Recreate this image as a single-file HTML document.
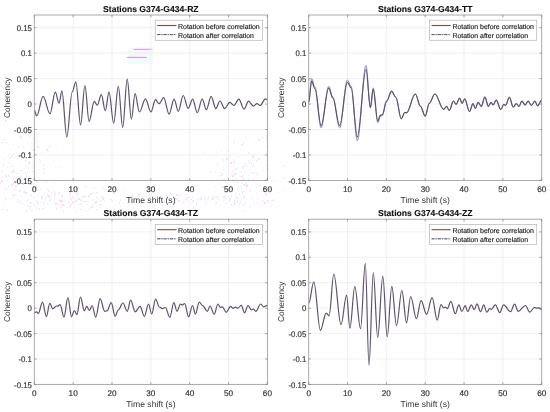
<!DOCTYPE html><html><head><meta charset="utf-8"><style>
html,body{margin:0;padding:0;background:#fff;}
body{width:550px;height:412px;overflow:hidden;}
svg{display:block;}
text{font-family:"Liberation Sans", sans-serif;stroke-linejoin:round;text-rendering:geometricPrecision;}
</style></head><body>
<svg width="550" height="412" viewBox="0 0 550 412" style="will-change:transform">
<rect width="550" height="412" fill="#fff"/>
<g opacity="0.42"><rect x="12" y="183" width="1" height="1" fill="#c4f4f4"/><rect x="13" y="177" width="1" height="1" fill="#f6b4ee"/><rect x="20" y="176" width="2" height="1" fill="#f6b4ee"/><rect x="18" y="202" width="1" height="1" fill="#c4f4f4"/><rect x="19" y="170" width="1" height="1" fill="#c4f4f4"/><rect x="23" y="184" width="1" height="1" fill="#c4f4f4"/><rect x="8" y="155" width="1" height="1" fill="#f6b4ee"/><rect x="20" y="203" width="1" height="1" fill="#f6b4ee"/><rect x="6" y="177" width="1" height="1" fill="#c4f4f4"/><rect x="2" y="159" width="2" height="1" fill="#c4f4f4"/><rect x="21" y="170" width="2" height="1" fill="#f6b4ee"/><rect x="12" y="172" width="2" height="1" fill="#c4f4f4"/><rect x="23" y="158" width="1" height="1" fill="#c4f4f4"/><rect x="28" y="163" width="1" height="2" fill="#c4f4f4"/><rect x="20" y="155" width="1" height="1" fill="#f6b4ee"/><rect x="8" y="175" width="1" height="2" fill="#f6b4ee"/><rect x="22" y="184" width="2" height="1" fill="#f6b4ee"/><rect x="1" y="180" width="2" height="2" fill="#c4f4f4"/><rect x="13" y="194" width="2" height="2" fill="#f6b4ee"/><rect x="20" y="183" width="1" height="1" fill="#f6b4ee"/><rect x="8" y="162" width="1" height="1" fill="#f6b4ee"/><rect x="10" y="147" width="1" height="1" fill="#c4f4f4"/><rect x="32" y="149" width="2" height="1" fill="#c4f4f4"/><rect x="11" y="178" width="1" height="1" fill="#c4f4f4"/><rect x="17" y="184" width="1" height="1" fill="#f6b4ee"/><rect x="19" y="180" width="1" height="2" fill="#f6b4ee"/><rect x="10" y="163" width="1" height="1" fill="#f6b4ee"/><rect x="32" y="201" width="1" height="1" fill="#c4f4f4"/><rect x="20" y="177" width="1" height="2" fill="#f6b4ee"/><rect x="17" y="176" width="1" height="1" fill="#c4f4f4"/><rect x="13" y="170" width="2" height="2" fill="#f6b4ee"/><rect x="12" y="155" width="1" height="2" fill="#f6b4ee"/><rect x="11" y="185" width="2" height="2" fill="#c4f4f4"/><rect x="23" y="133" width="1" height="1" fill="#c4f4f4"/><rect x="14" y="176" width="1" height="1" fill="#f6b4ee"/><rect x="5" y="120" width="2" height="2" fill="#f6b4ee"/><rect x="26" y="166" width="1" height="1" fill="#f6b4ee"/><rect x="20" y="201" width="2" height="1" fill="#c4f4f4"/><rect x="3" y="139" width="1" height="2" fill="#f6b4ee"/><rect x="20" y="136" width="1" height="2" fill="#f6b4ee"/><rect x="5" y="206" width="1" height="1" fill="#c4f4f4"/><rect x="34" y="160" width="1" height="1" fill="#f6b4ee"/><rect x="33" y="149" width="2" height="2" fill="#f6b4ee"/><rect x="9" y="154" width="1" height="1" fill="#f6b4ee"/><rect x="33" y="166" width="2" height="1" fill="#f6b4ee"/><rect x="31" y="142" width="1" height="1" fill="#f6b4ee"/><rect x="16" y="201" width="1" height="1" fill="#f6b4ee"/><rect x="25" y="160" width="1" height="2" fill="#f6b4ee"/><rect x="1" y="171" width="1" height="1" fill="#f6b4ee"/><rect x="16" y="173" width="1" height="1" fill="#c4f4f4"/><rect x="13" y="144" width="1" height="1" fill="#f6b4ee"/><rect x="17" y="161" width="1" height="1" fill="#c4f4f4"/><rect x="17" y="146" width="2" height="2" fill="#c4f4f4"/><rect x="0" y="182" width="1" height="2" fill="#f6b4ee"/><rect x="1" y="180" width="2" height="2" fill="#f6b4ee"/><rect x="36" y="135" width="1" height="2" fill="#f6b4ee"/><rect x="19" y="161" width="1" height="1" fill="#f6b4ee"/><rect x="16" y="180" width="2" height="2" fill="#c4f4f4"/><rect x="26" y="200" width="1" height="2" fill="#c4f4f4"/><rect x="24" y="168" width="1" height="1" fill="#c4f4f4"/><rect x="38" y="169" width="1" height="1" fill="#f6b4ee"/><rect x="11" y="184" width="2" height="1" fill="#f6b4ee"/><rect x="3" y="164" width="1" height="2" fill="#f6b4ee"/><rect x="11" y="171" width="2" height="2" fill="#c4f4f4"/><rect x="23" y="182" width="2" height="1" fill="#f6b4ee"/><rect x="24" y="188" width="2" height="1" fill="#c4f4f4"/><rect x="31" y="211" width="2" height="1" fill="#c4f4f4"/><rect x="33" y="183" width="1" height="2" fill="#f6b4ee"/><rect x="1" y="142" width="2" height="1" fill="#f6b4ee"/><rect x="24" y="153" width="1" height="2" fill="#f6b4ee"/><rect x="15" y="183" width="1" height="1" fill="#f6b4ee"/><rect x="18" y="178" width="1" height="1" fill="#f6b4ee"/><rect x="16" y="153" width="1" height="1" fill="#f6b4ee"/><rect x="25" y="173" width="2" height="1" fill="#f6b4ee"/><rect x="21" y="195" width="1" height="2" fill="#c4f4f4"/><rect x="3" y="182" width="1" height="1" fill="#c4f4f4"/><rect x="3" y="206" width="1" height="1" fill="#c4f4f4"/><rect x="13" y="178" width="1" height="2" fill="#f6b4ee"/><rect x="15" y="185" width="2" height="2" fill="#f6b4ee"/><rect x="11" y="156" width="1" height="1" fill="#f6b4ee"/><rect x="23" y="191" width="2" height="2" fill="#f6b4ee"/><rect x="7" y="167" width="1" height="1" fill="#c4f4f4"/><rect x="27" y="172" width="1" height="1" fill="#f6b4ee"/><rect x="14" y="171" width="1" height="1" fill="#f6b4ee"/><rect x="18" y="173" width="1" height="1" fill="#f6b4ee"/><rect x="5" y="142" width="1" height="1" fill="#c4f4f4"/><rect x="22" y="170" width="1" height="1" fill="#c4f4f4"/><rect x="28" y="132" width="2" height="2" fill="#c4f4f4"/><rect x="25" y="192" width="2" height="2" fill="#f6b4ee"/><rect x="23" y="146" width="1" height="2" fill="#c4f4f4"/><rect x="16" y="177" width="1" height="1" fill="#f6b4ee"/><rect x="23" y="147" width="1" height="2" fill="#c4f4f4"/><rect x="15" y="172" width="2" height="1" fill="#c4f4f4"/><rect x="33" y="186" width="1" height="1" fill="#f6b4ee"/><rect x="14" y="157" width="2" height="1" fill="#c4f4f4"/><rect x="5" y="188" width="2" height="2" fill="#c4f4f4"/><rect x="12" y="165" width="1" height="2" fill="#f6b4ee"/><rect x="10" y="198" width="1" height="1" fill="#f6b4ee"/><rect x="7" y="142" width="1" height="1" fill="#c4f4f4"/><rect x="2" y="177" width="2" height="1" fill="#f6b4ee"/><rect x="43" y="164" width="1" height="2" fill="#f6b4ee"/><rect x="28" y="167" width="1" height="2" fill="#f6b4ee"/><rect x="19" y="200" width="1" height="2" fill="#f6b4ee"/><rect x="30" y="202" width="2" height="2" fill="#f6b4ee"/><rect x="13" y="172" width="1" height="1" fill="#f6b4ee"/><rect x="13" y="183" width="1" height="2" fill="#f6b4ee"/><rect x="36" y="172" width="1" height="2" fill="#c4f4f4"/><rect x="10" y="125" width="1" height="1" fill="#f6b4ee"/><rect x="32" y="171" width="1" height="1" fill="#f6b4ee"/><rect x="21" y="175" width="1" height="2" fill="#c4f4f4"/><rect x="16" y="189" width="1" height="1" fill="#f6b4ee"/><rect x="39" y="159" width="1" height="2" fill="#c4f4f4"/><rect x="30" y="161" width="1" height="2" fill="#c4f4f4"/><rect x="9" y="157" width="2" height="1" fill="#f6b4ee"/><rect x="5" y="175" width="2" height="2" fill="#f6b4ee"/><rect x="14" y="204" width="1" height="1" fill="#f6b4ee"/><rect x="19" y="183" width="2" height="1" fill="#f6b4ee"/><rect x="29" y="171" width="1" height="1" fill="#f6b4ee"/><rect x="13" y="180" width="1" height="1" fill="#f6b4ee"/><rect x="31" y="148" width="1" height="1" fill="#f6b4ee"/><rect x="8" y="185" width="1" height="2" fill="#f6b4ee"/><rect x="25" y="190" width="2" height="1" fill="#c4f4f4"/><rect x="14" y="188" width="1" height="2" fill="#f6b4ee"/><rect x="30" y="135" width="1" height="2" fill="#f6b4ee"/><rect x="26" y="156" width="1" height="1" fill="#c4f4f4"/><rect x="36" y="153" width="2" height="1" fill="#c4f4f4"/><rect x="21" y="180" width="1" height="2" fill="#f6b4ee"/><rect x="12" y="140" width="1" height="1" fill="#c4f4f4"/><rect x="36" y="181" width="2" height="2" fill="#f6b4ee"/><rect x="13" y="182" width="1" height="2" fill="#f6b4ee"/><rect x="19" y="177" width="1" height="1" fill="#f6b4ee"/><rect x="18" y="201" width="1" height="1" fill="#f6b4ee"/><rect x="32" y="163" width="1" height="1" fill="#c4f4f4"/><rect x="13" y="153" width="1" height="2" fill="#f6b4ee"/><rect x="7" y="180" width="2" height="1" fill="#c4f4f4"/><rect x="26" y="176" width="1" height="1" fill="#f6b4ee"/><rect x="21" y="137" width="1" height="2" fill="#f6b4ee"/><rect x="7" y="209" width="1" height="2" fill="#f6b4ee"/><rect x="51" y="198" width="1" height="2" fill="#f6b4ee"/><rect x="84" y="196" width="1" height="2" fill="#f6b4ee"/><rect x="75" y="200" width="1" height="2" fill="#f6b4ee"/><rect x="103" y="189" width="2" height="1" fill="#c4f4f4"/><rect x="69" y="195" width="1" height="1" fill="#c4f4f4"/><rect x="61" y="202" width="1" height="1" fill="#f6b4ee"/><rect x="83" y="196" width="1" height="1" fill="#c4f4f4"/><rect x="92" y="184" width="1" height="1" fill="#f6b4ee"/><rect x="26" y="210" width="1" height="2" fill="#f6b4ee"/><rect x="98" y="199" width="2" height="1" fill="#c4f4f4"/><rect x="79" y="198" width="1" height="2" fill="#c4f4f4"/><rect x="90" y="193" width="2" height="2" fill="#f6b4ee"/><rect x="66" y="210" width="1" height="1" fill="#f6b4ee"/><rect x="72" y="180" width="2" height="1" fill="#c4f4f4"/><rect x="73" y="207" width="2" height="1" fill="#c4f4f4"/><rect x="69" y="206" width="2" height="1" fill="#f6b4ee"/><rect x="84" y="185" width="2" height="2" fill="#c4f4f4"/><rect x="58" y="204" width="2" height="1" fill="#f6b4ee"/><rect x="85" y="210" width="1" height="1" fill="#f6b4ee"/><rect x="46" y="195" width="2" height="2" fill="#c4f4f4"/><rect x="68" y="201" width="1" height="2" fill="#f6b4ee"/><rect x="50" y="199" width="1" height="2" fill="#f6b4ee"/><rect x="69" y="182" width="1" height="2" fill="#c4f4f4"/><rect x="60" y="207" width="2" height="1" fill="#f6b4ee"/><rect x="70" y="204" width="2" height="1" fill="#f6b4ee"/><rect x="57" y="205" width="1" height="1" fill="#c4f4f4"/><rect x="84" y="187" width="1" height="1" fill="#c4f4f4"/><rect x="92" y="184" width="1" height="1" fill="#c4f4f4"/><rect x="83" y="201" width="1" height="2" fill="#c4f4f4"/><rect x="30" y="209" width="1" height="2" fill="#f6b4ee"/><rect x="82" y="196" width="1" height="1" fill="#c4f4f4"/><rect x="59" y="201" width="1" height="1" fill="#f6b4ee"/><rect x="59" y="193" width="1" height="2" fill="#f6b4ee"/><rect x="79" y="204" width="2" height="1" fill="#f6b4ee"/><rect x="81" y="199" width="1" height="2" fill="#f6b4ee"/><rect x="84" y="200" width="1" height="1" fill="#c4f4f4"/><rect x="56" y="207" width="1" height="2" fill="#f6b4ee"/><rect x="96" y="197" width="2" height="1" fill="#f6b4ee"/><rect x="130" y="198" width="2" height="1" fill="#f6b4ee"/><rect x="93" y="192" width="1" height="1" fill="#f6b4ee"/><rect x="31" y="184" width="1" height="1" fill="#f6b4ee"/><rect x="54" y="197" width="1" height="2" fill="#f6b4ee"/><rect x="95" y="203" width="2" height="1" fill="#c4f4f4"/><rect x="116" y="211" width="1" height="1" fill="#c4f4f4"/><rect x="94" y="194" width="1" height="2" fill="#c4f4f4"/><rect x="96" y="209" width="1" height="2" fill="#f6b4ee"/><rect x="78" y="193" width="1" height="1" fill="#f6b4ee"/><rect x="59" y="200" width="2" height="2" fill="#f6b4ee"/><rect x="104" y="200" width="1" height="2" fill="#c4f4f4"/><rect x="97" y="205" width="1" height="1" fill="#c4f4f4"/><rect x="37" y="203" width="1" height="1" fill="#f6b4ee"/><rect x="64" y="198" width="1" height="1" fill="#c4f4f4"/><rect x="74" y="184" width="1" height="1" fill="#f6b4ee"/><rect x="81" y="200" width="1" height="1" fill="#f6b4ee"/><rect x="61" y="197" width="1" height="2" fill="#c4f4f4"/><rect x="75" y="188" width="1" height="1" fill="#f6b4ee"/><rect x="84" y="196" width="2" height="2" fill="#c4f4f4"/><rect x="77" y="193" width="1" height="2" fill="#c4f4f4"/><rect x="84" y="195" width="2" height="1" fill="#c4f4f4"/><rect x="42" y="208" width="2" height="1" fill="#f6b4ee"/><rect x="76" y="193" width="2" height="1" fill="#f6b4ee"/><rect x="67" y="207" width="1" height="1" fill="#f6b4ee"/><rect x="44" y="182" width="2" height="1" fill="#f6b4ee"/><rect x="30" y="195" width="2" height="1" fill="#f6b4ee"/><rect x="19" y="190" width="2" height="2" fill="#f6b4ee"/><rect x="30" y="206" width="2" height="1" fill="#f6b4ee"/><rect x="39" y="208" width="1" height="2" fill="#f6b4ee"/><rect x="119" y="202" width="1" height="2" fill="#f6b4ee"/><rect x="34" y="191" width="1" height="1" fill="#f6b4ee"/><rect x="92" y="206" width="1" height="2" fill="#f6b4ee"/><rect x="83" y="202" width="1" height="1" fill="#c4f4f4"/><rect x="61" y="200" width="1" height="1" fill="#f6b4ee"/><rect x="53" y="195" width="1" height="1" fill="#c4f4f4"/><rect x="89" y="195" width="1" height="2" fill="#f6b4ee"/><rect x="103" y="187" width="1" height="1" fill="#f6b4ee"/><rect x="47" y="189" width="1" height="1" fill="#f6b4ee"/><rect x="112" y="192" width="2" height="1" fill="#f6b4ee"/><rect x="41" y="196" width="1" height="2" fill="#f6b4ee"/><rect x="105" y="198" width="1" height="1" fill="#c4f4f4"/><rect x="44" y="192" width="2" height="1" fill="#c4f4f4"/><rect x="61" y="204" width="2" height="2" fill="#f6b4ee"/><rect x="69" y="197" width="2" height="1" fill="#c4f4f4"/><rect x="68" y="189" width="1" height="1" fill="#f6b4ee"/><rect x="94" y="199" width="1" height="2" fill="#c4f4f4"/><rect x="64" y="191" width="1" height="2" fill="#c4f4f4"/><rect x="48" y="197" width="2" height="1" fill="#c4f4f4"/><rect x="73" y="197" width="1" height="2" fill="#f6b4ee"/><rect x="113" y="193" width="2" height="1" fill="#f6b4ee"/><rect x="40" y="189" width="2" height="1" fill="#c4f4f4"/><rect x="93" y="187" width="1" height="2" fill="#c4f4f4"/><rect x="48" y="195" width="1" height="1" fill="#f6b4ee"/><rect x="83" y="195" width="1" height="2" fill="#f6b4ee"/><rect x="61" y="201" width="1" height="2" fill="#f6b4ee"/><rect x="41" y="188" width="1" height="1" fill="#c4f4f4"/><rect x="36" y="209" width="2" height="1" fill="#c4f4f4"/><rect x="111" y="184" width="1" height="1" fill="#c4f4f4"/><rect x="75" y="199" width="2" height="2" fill="#c4f4f4"/><rect x="87" y="187" width="1" height="1" fill="#f6b4ee"/><rect x="70" y="192" width="1" height="1" fill="#f6b4ee"/><rect x="69" y="204" width="1" height="1" fill="#c4f4f4"/><rect x="102" y="195" width="1" height="1" fill="#c4f4f4"/><rect x="44" y="202" width="1" height="2" fill="#c4f4f4"/><rect x="50" y="196" width="1" height="2" fill="#c4f4f4"/><rect x="70" y="198" width="2" height="2" fill="#f6b4ee"/><rect x="102" y="198" width="2" height="1" fill="#f6b4ee"/><rect x="44" y="198" width="1" height="2" fill="#c4f4f4"/><rect x="65" y="203" width="1" height="1" fill="#c4f4f4"/><rect x="62" y="195" width="1" height="2" fill="#c4f4f4"/><rect x="51" y="192" width="1" height="2" fill="#f6b4ee"/><rect x="120" y="206" width="1" height="1" fill="#f6b4ee"/><rect x="96" y="192" width="2" height="1" fill="#f6b4ee"/><rect x="36" y="200" width="2" height="2" fill="#c4f4f4"/><rect x="55" y="203" width="2" height="2" fill="#f6b4ee"/><rect x="69" y="193" width="2" height="1" fill="#f6b4ee"/><rect x="91" y="204" width="1" height="1" fill="#c4f4f4"/><rect x="56" y="209" width="1" height="1" fill="#c4f4f4"/><rect x="70" y="205" width="1" height="1" fill="#f6b4ee"/><rect x="68" y="194" width="1" height="1" fill="#c4f4f4"/><rect x="119" y="196" width="1" height="1" fill="#c4f4f4"/><rect x="61" y="195" width="1" height="1" fill="#f6b4ee"/><rect x="30" y="206" width="1" height="2" fill="#c4f4f4"/><rect x="54" y="199" width="1" height="2" fill="#c4f4f4"/><rect x="94" y="193" width="2" height="1" fill="#c4f4f4"/><rect x="76" y="210" width="2" height="2" fill="#c4f4f4"/><rect x="95" y="188" width="1" height="1" fill="#c4f4f4"/><rect x="61" y="195" width="2" height="2" fill="#f6b4ee"/><rect x="55" y="193" width="1" height="2" fill="#f6b4ee"/><rect x="34" y="204" width="1" height="2" fill="#c4f4f4"/><rect x="74" y="190" width="2" height="1" fill="#f6b4ee"/><rect x="54" y="196" width="2" height="1" fill="#c4f4f4"/><rect x="99" y="204" width="2" height="1" fill="#f6b4ee"/><rect x="36" y="186" width="1" height="2" fill="#f6b4ee"/><rect x="80" y="209" width="2" height="1" fill="#f6b4ee"/><rect x="96" y="197" width="1" height="1" fill="#f6b4ee"/><rect x="53" y="161" width="1" height="1" fill="#f6b4ee"/><rect x="44" y="168" width="2" height="1" fill="#c4f4f4"/><rect x="47" y="181" width="1" height="1" fill="#f6b4ee"/><rect x="47" y="138" width="1" height="1" fill="#c4f4f4"/><rect x="48" y="190" width="1" height="2" fill="#f6b4ee"/><rect x="48" y="147" width="1" height="1" fill="#f6b4ee"/><rect x="48" y="150" width="1" height="1" fill="#c4f4f4"/><rect x="44" y="172" width="1" height="2" fill="#f6b4ee"/><rect x="43" y="168" width="1" height="1" fill="#f6b4ee"/><rect x="37" y="146" width="2" height="2" fill="#f6b4ee"/><rect x="59" y="167" width="2" height="1" fill="#c4f4f4"/><rect x="50" y="145" width="1" height="2" fill="#f6b4ee"/><rect x="41" y="152" width="1" height="1" fill="#f6b4ee"/><rect x="46" y="149" width="2" height="2" fill="#f6b4ee"/><rect x="53" y="181" width="2" height="2" fill="#c4f4f4"/><rect x="56" y="146" width="1" height="2" fill="#c4f4f4"/><rect x="32" y="156" width="2" height="1" fill="#f6b4ee"/><rect x="44" y="168" width="1" height="1" fill="#f6b4ee"/><rect x="40" y="161" width="1" height="1" fill="#f6b4ee"/><rect x="45" y="158" width="1" height="1" fill="#c4f4f4"/><rect x="37" y="140" width="1" height="2" fill="#f6b4ee"/><rect x="55" y="167" width="1" height="2" fill="#c4f4f4"/><rect x="37" y="134" width="2" height="1" fill="#f6b4ee"/><rect x="28" y="162" width="2" height="2" fill="#f6b4ee"/><rect x="36" y="180" width="1" height="1" fill="#f6b4ee"/><rect x="244" y="164" width="1" height="1" fill="#f6b4ee"/><rect x="249" y="163" width="1" height="1" fill="#c4f4f4"/><rect x="240" y="201" width="1" height="2" fill="#c4f4f4"/><rect x="235" y="193" width="1" height="2" fill="#f6b4ee"/><rect x="244" y="172" width="2" height="1" fill="#c4f4f4"/><rect x="257" y="183" width="1" height="2" fill="#f6b4ee"/><rect x="222" y="159" width="2" height="2" fill="#c4f4f4"/><rect x="224" y="159" width="1" height="2" fill="#c4f4f4"/><rect x="249" y="206" width="2" height="1" fill="#f6b4ee"/><rect x="245" y="182" width="2" height="2" fill="#c4f4f4"/><rect x="220" y="205" width="1" height="1" fill="#c4f4f4"/><rect x="236" y="197" width="1" height="2" fill="#f6b4ee"/><rect x="248" y="175" width="1" height="1" fill="#c4f4f4"/><rect x="251" y="153" width="1" height="1" fill="#c4f4f4"/><rect x="224" y="195" width="2" height="1" fill="#c4f4f4"/><rect x="235" y="182" width="1" height="1" fill="#c4f4f4"/><rect x="244" y="178" width="1" height="2" fill="#c4f4f4"/><rect x="273" y="199" width="1" height="2" fill="#f6b4ee"/><rect x="244" y="210" width="1" height="2" fill="#f6b4ee"/><rect x="234" y="139" width="1" height="2" fill="#c4f4f4"/><rect x="237" y="156" width="1" height="2" fill="#c4f4f4"/><rect x="242" y="175" width="1" height="2" fill="#f6b4ee"/><rect x="256" y="186" width="1" height="2" fill="#c4f4f4"/><rect x="236" y="178" width="1" height="1" fill="#f6b4ee"/><rect x="238" y="167" width="1" height="2" fill="#c4f4f4"/><rect x="230" y="162" width="2" height="2" fill="#f6b4ee"/><rect x="248" y="152" width="1" height="2" fill="#f6b4ee"/><rect x="233" y="142" width="1" height="2" fill="#f6b4ee"/><rect x="254" y="154" width="1" height="2" fill="#f6b4ee"/><rect x="223" y="199" width="2" height="2" fill="#c4f4f4"/><rect x="242" y="179" width="1" height="1" fill="#f6b4ee"/><rect x="258" y="139" width="2" height="2" fill="#f6b4ee"/><rect x="258" y="158" width="2" height="2" fill="#f6b4ee"/><rect x="227" y="137" width="1" height="1" fill="#f6b4ee"/><rect x="246" y="165" width="2" height="1" fill="#c4f4f4"/><rect x="221" y="159" width="1" height="1" fill="#f6b4ee"/><rect x="243" y="142" width="1" height="2" fill="#f6b4ee"/><rect x="244" y="163" width="2" height="2" fill="#c4f4f4"/><rect x="222" y="174" width="1" height="1" fill="#c4f4f4"/><rect x="254" y="206" width="1" height="1" fill="#f6b4ee"/><rect x="232" y="176" width="2" height="1" fill="#f6b4ee"/><rect x="263" y="195" width="1" height="1" fill="#c4f4f4"/><rect x="230" y="198" width="1" height="2" fill="#f6b4ee"/><rect x="256" y="160" width="1" height="2" fill="#c4f4f4"/><rect x="204" y="199" width="2" height="2" fill="#c4f4f4"/><rect x="242" y="183" width="1" height="1" fill="#f6b4ee"/><rect x="264" y="186" width="1" height="2" fill="#c4f4f4"/><rect x="248" y="174" width="1" height="1" fill="#c4f4f4"/><rect x="256" y="174" width="1" height="2" fill="#c4f4f4"/><rect x="234" y="160" width="1" height="2" fill="#f6b4ee"/><rect x="255" y="177" width="1" height="1" fill="#f6b4ee"/><rect x="274" y="153" width="1" height="2" fill="#c4f4f4"/><rect x="236" y="150" width="1" height="1" fill="#c4f4f4"/><rect x="244" y="130" width="1" height="1" fill="#c4f4f4"/><rect x="243" y="168" width="1" height="1" fill="#f6b4ee"/><rect x="232" y="179" width="1" height="2" fill="#f6b4ee"/><rect x="271" y="180" width="1" height="2" fill="#f6b4ee"/><rect x="268" y="146" width="1" height="1" fill="#f6b4ee"/><rect x="274" y="161" width="1" height="1" fill="#c4f4f4"/><rect x="252" y="157" width="1" height="1" fill="#c4f4f4"/><rect x="269" y="189" width="1" height="2" fill="#c4f4f4"/><rect x="241" y="198" width="1" height="2" fill="#f6b4ee"/><rect x="237" y="188" width="1" height="2" fill="#f6b4ee"/><rect x="278" y="192" width="1" height="1" fill="#c4f4f4"/><rect x="239" y="193" width="1" height="2" fill="#f6b4ee"/><rect x="283" y="177" width="1" height="2" fill="#f6b4ee"/><rect x="270" y="189" width="2" height="1" fill="#f6b4ee"/><rect x="248" y="160" width="1" height="2" fill="#f6b4ee"/><rect x="231" y="175" width="2" height="1" fill="#f6b4ee"/><rect x="234" y="173" width="2" height="2" fill="#f6b4ee"/><rect x="245" y="185" width="1" height="1" fill="#f6b4ee"/><rect x="241" y="191" width="2" height="2" fill="#c4f4f4"/><rect x="232" y="171" width="2" height="1" fill="#f6b4ee"/><rect x="241" y="171" width="1" height="2" fill="#c4f4f4"/><rect x="256" y="160" width="2" height="1" fill="#f6b4ee"/><rect x="252" y="166" width="2" height="1" fill="#f6b4ee"/><rect x="251" y="194" width="1" height="1" fill="#c4f4f4"/><rect x="222" y="186" width="2" height="2" fill="#f6b4ee"/><rect x="253" y="164" width="1" height="2" fill="#c4f4f4"/><rect x="276" y="193" width="1" height="1" fill="#c4f4f4"/><rect x="221" y="173" width="2" height="1" fill="#f6b4ee"/><rect x="246" y="186" width="2" height="1" fill="#f6b4ee"/><rect x="265" y="195" width="1" height="1" fill="#f6b4ee"/><rect x="223" y="166" width="1" height="2" fill="#c4f4f4"/><rect x="241" y="172" width="1" height="1" fill="#f6b4ee"/><rect x="241" y="188" width="1" height="1" fill="#f6b4ee"/><rect x="249" y="169" width="2" height="1" fill="#c4f4f4"/><rect x="262" y="136" width="1" height="2" fill="#f6b4ee"/><rect x="225" y="174" width="2" height="1" fill="#c4f4f4"/><rect x="243" y="196" width="2" height="2" fill="#f6b4ee"/><rect x="271" y="158" width="1" height="1" fill="#c4f4f4"/><rect x="283" y="165" width="1" height="2" fill="#f6b4ee"/><rect x="228" y="196" width="1" height="1" fill="#f6b4ee"/><rect x="252" y="179" width="2" height="2" fill="#c4f4f4"/><rect x="221" y="150" width="2" height="1" fill="#c4f4f4"/><rect x="234" y="165" width="1" height="1" fill="#c4f4f4"/><rect x="265" y="165" width="1" height="1" fill="#f6b4ee"/><rect x="257" y="172" width="1" height="1" fill="#f6b4ee"/><rect x="205" y="150" width="1" height="1" fill="#f6b4ee"/><rect x="233" y="175" width="1" height="1" fill="#f6b4ee"/><rect x="230" y="187" width="1" height="1" fill="#f6b4ee"/><rect x="256" y="154" width="1" height="1" fill="#c4f4f4"/><rect x="238" y="156" width="1" height="1" fill="#f6b4ee"/><rect x="238" y="191" width="1" height="1" fill="#f6b4ee"/><rect x="240" y="176" width="2" height="1" fill="#f6b4ee"/><rect x="223" y="169" width="2" height="1" fill="#f6b4ee"/><rect x="244" y="166" width="2" height="1" fill="#f6b4ee"/><rect x="259" y="185" width="2" height="1" fill="#f6b4ee"/><rect x="242" y="166" width="1" height="2" fill="#f6b4ee"/><rect x="216" y="151" width="1" height="2" fill="#c4f4f4"/><rect x="241" y="144" width="2" height="2" fill="#f6b4ee"/><rect x="251" y="172" width="1" height="2" fill="#c4f4f4"/><rect x="224" y="165" width="1" height="1" fill="#c4f4f4"/><rect x="250" y="138" width="1" height="1" fill="#c4f4f4"/><rect x="215" y="186" width="1" height="1" fill="#f6b4ee"/><rect x="231" y="189" width="2" height="1" fill="#c4f4f4"/><rect x="232" y="182" width="1" height="1" fill="#f6b4ee"/><rect x="236" y="173" width="1" height="2" fill="#c4f4f4"/><rect x="266" y="135" width="1" height="2" fill="#f6b4ee"/><rect x="248" y="178" width="1" height="2" fill="#c4f4f4"/><rect x="246" y="153" width="1" height="1" fill="#c4f4f4"/><rect x="235" y="159" width="1" height="1" fill="#f6b4ee"/><rect x="268" y="168" width="1" height="1" fill="#f6b4ee"/><rect x="224" y="192" width="2" height="2" fill="#c4f4f4"/><rect x="223" y="179" width="2" height="1" fill="#c4f4f4"/><rect x="210" y="171" width="1" height="2" fill="#f6b4ee"/><rect x="252" y="156" width="2" height="2" fill="#f6b4ee"/><rect x="266" y="123" width="1" height="1" fill="#c4f4f4"/><rect x="237" y="201" width="1" height="1" fill="#f6b4ee"/><rect x="226" y="158" width="2" height="2" fill="#f6b4ee"/><rect x="260" y="183" width="1" height="2" fill="#c4f4f4"/><rect x="258" y="178" width="1" height="2" fill="#c4f4f4"/><rect x="249" y="200" width="1" height="2" fill="#c4f4f4"/><rect x="182" y="164" width="1" height="1" fill="#c4f4f4"/><rect x="259" y="206" width="1" height="1" fill="#f6b4ee"/><rect x="209" y="172" width="2" height="1" fill="#c4f4f4"/><rect x="273" y="180" width="2" height="1" fill="#f6b4ee"/><rect x="249" y="191" width="2" height="1" fill="#f6b4ee"/><rect x="231" y="195" width="1" height="2" fill="#f6b4ee"/><rect x="203" y="152" width="1" height="1" fill="#f6b4ee"/><rect x="283" y="190" width="1" height="2" fill="#c4f4f4"/><rect x="249" y="162" width="2" height="1" fill="#c4f4f4"/><rect x="255" y="173" width="2" height="1" fill="#f6b4ee"/><rect x="211" y="181" width="1" height="1" fill="#f6b4ee"/><rect x="237" y="202" width="1" height="1" fill="#f6b4ee"/><rect x="237" y="182" width="2" height="1" fill="#f6b4ee"/><rect x="243" y="191" width="1" height="1" fill="#f6b4ee"/><rect x="234" y="162" width="2" height="1" fill="#f6b4ee"/><rect x="256" y="193" width="2" height="1" fill="#c4f4f4"/><rect x="225" y="203" width="2" height="1" fill="#f6b4ee"/><rect x="263" y="170" width="1" height="1" fill="#f6b4ee"/><rect x="239" y="163" width="1" height="1" fill="#c4f4f4"/><rect x="243" y="205" width="2" height="1" fill="#f6b4ee"/><rect x="220" y="175" width="2" height="1" fill="#f6b4ee"/><rect x="230" y="156" width="1" height="1" fill="#f6b4ee"/><rect x="231" y="204" width="1" height="1" fill="#f6b4ee"/><rect x="227" y="177" width="1" height="1" fill="#f6b4ee"/><rect x="263" y="200" width="1" height="2" fill="#f6b4ee"/><rect x="248" y="137" width="1" height="1" fill="#c4f4f4"/><rect x="269" y="183" width="1" height="1" fill="#c4f4f4"/><rect x="227" y="151" width="2" height="1" fill="#f6b4ee"/><rect x="235" y="168" width="2" height="2" fill="#f6b4ee"/><rect x="241" y="172" width="1" height="1" fill="#f6b4ee"/><rect x="237" y="196" width="1" height="2" fill="#f6b4ee"/><rect x="217" y="164" width="1" height="2" fill="#f6b4ee"/><rect x="242" y="178" width="2" height="1" fill="#c4f4f4"/><rect x="277" y="188" width="1" height="1" fill="#c4f4f4"/><rect x="267" y="200" width="2" height="2" fill="#f6b4ee"/><rect x="266" y="193" width="2" height="2" fill="#f6b4ee"/><rect x="241" y="186" width="1" height="2" fill="#c4f4f4"/><rect x="232" y="147" width="1" height="1" fill="#c4f4f4"/><rect x="269" y="188" width="1" height="2" fill="#f6b4ee"/><rect x="264" y="202" width="2" height="2" fill="#f6b4ee"/><rect x="241" y="203" width="1" height="1" fill="#c4f4f4"/><rect x="243" y="184" width="1" height="1" fill="#f6b4ee"/><rect x="239" y="188" width="1" height="1" fill="#c4f4f4"/><rect x="244" y="202" width="2" height="1" fill="#f6b4ee"/><rect x="257" y="198" width="2" height="1" fill="#f6b4ee"/><rect x="243" y="165" width="1" height="1" fill="#c4f4f4"/><rect x="246" y="140" width="1" height="1" fill="#f6b4ee"/><rect x="244" y="184" width="1" height="2" fill="#f6b4ee"/><rect x="234" y="181" width="1" height="1" fill="#f6b4ee"/><rect x="246" y="184" width="2" height="2" fill="#f6b4ee"/><rect x="267" y="194" width="1" height="1" fill="#c4f4f4"/><rect x="223" y="179" width="1" height="1" fill="#f6b4ee"/><rect x="265" y="164" width="2" height="2" fill="#c4f4f4"/><rect x="242" y="193" width="1" height="2" fill="#f6b4ee"/><rect x="251" y="163" width="1" height="2" fill="#f6b4ee"/><rect x="252" y="172" width="2" height="2" fill="#c4f4f4"/><rect x="237" y="189" width="1" height="1" fill="#c4f4f4"/><rect x="226" y="171" width="1" height="1" fill="#c4f4f4"/><rect x="111" y="200" width="2" height="2" fill="#c4f4f4"/><rect x="182" y="201" width="1" height="1" fill="#f6b4ee"/><rect x="139" y="202" width="1" height="1" fill="#c4f4f4"/><rect x="162" y="202" width="1" height="1" fill="#f6b4ee"/><rect x="149" y="202" width="2" height="2" fill="#c4f4f4"/><rect x="128" y="204" width="1" height="1" fill="#c4f4f4"/><rect x="132" y="207" width="2" height="2" fill="#c4f4f4"/><rect x="162" y="206" width="1" height="1" fill="#f6b4ee"/><rect x="154" y="204" width="1" height="2" fill="#f6b4ee"/><rect x="200" y="197" width="2" height="2" fill="#c4f4f4"/><rect x="153" y="201" width="1" height="1" fill="#c4f4f4"/><rect x="83" y="197" width="1" height="1" fill="#f6b4ee"/><rect x="115" y="211" width="1" height="2" fill="#f6b4ee"/><rect x="138" y="203" width="1" height="1" fill="#c4f4f4"/><rect x="118" y="206" width="1" height="1" fill="#c4f4f4"/><rect x="136" y="202" width="1" height="1" fill="#c4f4f4"/><rect x="127" y="202" width="1" height="1" fill="#f6b4ee"/><rect x="136" y="201" width="1" height="1" fill="#f6b4ee"/><rect x="140" y="204" width="2" height="1" fill="#f6b4ee"/><rect x="138" y="194" width="2" height="2" fill="#f6b4ee"/><rect x="195" y="208" width="1" height="2" fill="#f6b4ee"/><rect x="102" y="199" width="2" height="1" fill="#f6b4ee"/><rect x="152" y="207" width="1" height="1" fill="#f6b4ee"/><rect x="135" y="210" width="2" height="2" fill="#f6b4ee"/><rect x="176" y="198" width="2" height="1" fill="#c4f4f4"/><rect x="149" y="198" width="1" height="2" fill="#c4f4f4"/><rect x="170" y="206" width="2" height="2" fill="#c4f4f4"/><rect x="189" y="204" width="1" height="2" fill="#f6b4ee"/><rect x="201" y="210" width="1" height="1" fill="#c4f4f4"/><rect x="5" y="202" width="1" height="1" fill="#c4f4f4"/><rect x="101" y="204" width="1" height="1" fill="#f6b4ee"/><rect x="48" y="196" width="2" height="1" fill="#f6b4ee"/><rect x="39" y="193" width="1" height="1" fill="#c4f4f4"/><rect x="80" y="203" width="2" height="1" fill="#c4f4f4"/><rect x="82" y="206" width="1" height="1" fill="#c4f4f4"/><rect x="91" y="206" width="2" height="2" fill="#f6b4ee"/><rect x="83" y="201" width="2" height="1" fill="#f6b4ee"/><rect x="77" y="200" width="1" height="1" fill="#f6b4ee"/><rect x="38" y="202" width="1" height="1" fill="#f6b4ee"/><rect x="92" y="200" width="1" height="1" fill="#c4f4f4"/><rect x="48" y="197" width="1" height="1" fill="#f6b4ee"/><rect x="26" y="197" width="2" height="1" fill="#c4f4f4"/><rect x="12" y="197" width="2" height="2" fill="#c4f4f4"/><rect x="41" y="197" width="2" height="2" fill="#f6b4ee"/><rect x="102" y="197" width="2" height="2" fill="#f6b4ee"/><rect x="17" y="199" width="1" height="1" fill="#f6b4ee"/><rect x="85" y="201" width="2" height="1" fill="#f6b4ee"/><rect x="44" y="202" width="1" height="1" fill="#f6b4ee"/><rect x="120" y="200" width="1" height="1" fill="#f6b4ee"/><rect x="54" y="202" width="1" height="1" fill="#f6b4ee"/><rect x="54" y="194" width="1" height="2" fill="#c4f4f4"/><rect x="49" y="199" width="1" height="2" fill="#f6b4ee"/><rect x="27" y="205" width="2" height="1" fill="#f6b4ee"/><rect x="56" y="203" width="1" height="1" fill="#f6b4ee"/><rect x="54" y="197" width="1" height="2" fill="#f6b4ee"/><rect x="88" y="195" width="2" height="2" fill="#f6b4ee"/><rect x="50" y="199" width="2" height="1" fill="#c4f4f4"/><rect x="72" y="201" width="2" height="2" fill="#f6b4ee"/><rect x="78" y="198" width="2" height="2" fill="#f6b4ee"/><rect x="22" y="203" width="1" height="1" fill="#f6b4ee"/><rect x="100" y="201" width="1" height="1" fill="#f6b4ee"/><rect x="58" y="204" width="2" height="1" fill="#f6b4ee"/><rect x="70" y="199" width="2" height="1" fill="#c4f4f4"/><rect x="74" y="201" width="2" height="1" fill="#f6b4ee"/><rect x="72" y="196" width="1" height="1" fill="#f6b4ee"/><rect x="37" y="195" width="2" height="1" fill="#f6b4ee"/><rect x="47" y="193" width="1" height="2" fill="#c4f4f4"/><rect x="92" y="199" width="1" height="2" fill="#f6b4ee"/><rect x="62" y="200" width="1" height="2" fill="#f6b4ee"/><rect x="1" y="209" width="2" height="1" fill="#f6b4ee"/><rect x="75" y="200" width="1" height="1" fill="#f6b4ee"/><rect x="89" y="208" width="1" height="1" fill="#f6b4ee"/><rect x="54" y="191" width="1" height="2" fill="#f6b4ee"/><rect x="63" y="211" width="1" height="1" fill="#f6b4ee"/><rect x="70" y="195" width="2" height="1" fill="#f6b4ee"/><rect x="58" y="198" width="1" height="2" fill="#c4f4f4"/><rect x="95" y="201" width="2" height="2" fill="#f6b4ee"/><rect x="45" y="197" width="1" height="1" fill="#f6b4ee"/><rect x="62" y="202" width="1" height="1" fill="#c4f4f4"/><rect x="80" y="199" width="1" height="2" fill="#c4f4f4"/><rect x="76" y="197" width="2" height="1" fill="#c4f4f4"/><rect x="43" y="204" width="1" height="2" fill="#c4f4f4"/><rect x="33" y="197" width="2" height="1" fill="#c4f4f4"/><rect x="81" y="197" width="2" height="1" fill="#c4f4f4"/><rect x="123" y="190" width="1" height="1" fill="#f6b4ee"/><rect x="64" y="199" width="1" height="2" fill="#c4f4f4"/><rect x="74" y="201" width="1" height="1" fill="#c4f4f4"/><rect x="101" y="196" width="2" height="1" fill="#c4f4f4"/><rect x="65" y="207" width="1" height="1" fill="#c4f4f4"/><rect x="63" y="204" width="1" height="2" fill="#f6b4ee"/><rect x="35" y="207" width="1" height="1" fill="#f6b4ee"/><rect x="43" y="201" width="1" height="2" fill="#c4f4f4"/><rect x="45" y="199" width="1" height="2" fill="#f6b4ee"/><rect x="47" y="202" width="2" height="2" fill="#c4f4f4"/><rect x="57" y="202" width="1" height="1" fill="#f6b4ee"/><rect x="29" y="199" width="1" height="1" fill="#c4f4f4"/><rect x="43" y="194" width="1" height="2" fill="#f6b4ee"/><rect x="120" y="199" width="1" height="1" fill="#c4f4f4"/><rect x="37" y="202" width="1" height="2" fill="#f6b4ee"/><rect x="101" y="200" width="1" height="2" fill="#c4f4f4"/><rect x="44" y="202" width="1" height="2" fill="#f6b4ee"/><rect x="73" y="191" width="1" height="1" fill="#f6b4ee"/><rect x="37" y="195" width="2" height="1" fill="#f6b4ee"/><rect x="58" y="192" width="1" height="2" fill="#f6b4ee"/><rect x="64" y="205" width="1" height="2" fill="#c4f4f4"/><rect x="31" y="203" width="1" height="1" fill="#c4f4f4"/><rect x="34" y="196" width="1" height="1" fill="#f6b4ee"/><rect x="88" y="197" width="1" height="1" fill="#c4f4f4"/><rect x="62" y="202" width="1" height="1" fill="#c4f4f4"/><rect x="5" y="198" width="1" height="2" fill="#f6b4ee"/><rect x="18" y="201" width="2" height="2" fill="#c4f4f4"/><rect x="88" y="201" width="2" height="1" fill="#c4f4f4"/><rect x="72" y="202" width="1" height="2" fill="#f6b4ee"/><rect x="27" y="199" width="1" height="2" fill="#f6b4ee"/><rect x="48" y="195" width="2" height="2" fill="#f6b4ee"/><rect x="86" y="204" width="1" height="1" fill="#f6b4ee"/><rect x="41" y="202" width="1" height="1" fill="#f6b4ee"/><rect x="190" y="199" width="2" height="1" fill="#f6b4ee"/><rect x="189" y="202" width="1" height="2" fill="#c4f4f4"/><rect x="212" y="197" width="2" height="2" fill="#f6b4ee"/><rect x="193" y="200" width="1" height="2" fill="#f6b4ee"/><rect x="191" y="203" width="2" height="1" fill="#c4f4f4"/><rect x="170" y="203" width="1" height="2" fill="#c4f4f4"/><rect x="193" y="196" width="1" height="1" fill="#c4f4f4"/><rect x="201" y="196" width="1" height="2" fill="#f6b4ee"/><rect x="200" y="199" width="1" height="1" fill="#c4f4f4"/><rect x="216" y="196" width="2" height="1" fill="#f6b4ee"/><rect x="164" y="200" width="1" height="2" fill="#c4f4f4"/><rect x="192" y="200" width="1" height="2" fill="#c4f4f4"/><rect x="201" y="198" width="1" height="2" fill="#f6b4ee"/><rect x="210" y="201" width="1" height="1" fill="#c4f4f4"/><rect x="180" y="194" width="1" height="2" fill="#f6b4ee"/><rect x="165" y="202" width="2" height="2" fill="#c4f4f4"/><rect x="216" y="202" width="1" height="2" fill="#f6b4ee"/><rect x="196" y="203" width="1" height="2" fill="#f6b4ee"/><rect x="166" y="198" width="1" height="1" fill="#f6b4ee"/><rect x="236" y="194" width="1" height="1" fill="#c4f4f4"/><rect x="235" y="201" width="1" height="1" fill="#f6b4ee"/><rect x="175" y="198" width="1" height="2" fill="#c4f4f4"/><rect x="190" y="199" width="1" height="1" fill="#f6b4ee"/><rect x="175" y="198" width="2" height="1" fill="#f6b4ee"/><rect x="186" y="193" width="1" height="2" fill="#c4f4f4"/><rect x="142" y="202" width="1" height="2" fill="#f6b4ee"/><rect x="256" y="202" width="1" height="1" fill="#f6b4ee"/><rect x="234" y="197" width="1" height="2" fill="#c4f4f4"/><rect x="188" y="197" width="2" height="1" fill="#f6b4ee"/><rect x="217" y="198" width="1" height="2" fill="#f6b4ee"/><rect x="229" y="198" width="1" height="2" fill="#c4f4f4"/><rect x="193" y="197" width="1" height="1" fill="#f6b4ee"/><rect x="212" y="197" width="1" height="1" fill="#f6b4ee"/><rect x="183" y="199" width="1" height="2" fill="#c4f4f4"/><rect x="231" y="205" width="1" height="1" fill="#c4f4f4"/><rect x="168" y="203" width="1" height="1" fill="#f6b4ee"/><rect x="152" y="201" width="1" height="1" fill="#f6b4ee"/><rect x="207" y="198" width="2" height="2" fill="#c4f4f4"/><rect x="175" y="199" width="2" height="1" fill="#f6b4ee"/><rect x="211" y="199" width="2" height="1" fill="#f6b4ee"/><rect x="187" y="199" width="1" height="2" fill="#f6b4ee"/><rect x="212" y="197" width="1" height="1" fill="#c4f4f4"/><rect x="226" y="199" width="1" height="1" fill="#c4f4f4"/><rect x="183" y="203" width="2" height="1" fill="#f6b4ee"/><rect x="205" y="196" width="1" height="1" fill="#f6b4ee"/><rect x="149" y="197" width="1" height="1" fill="#c4f4f4"/><rect x="186" y="199" width="1" height="1" fill="#c4f4f4"/><rect x="182" y="203" width="1" height="1" fill="#c4f4f4"/><rect x="225" y="198" width="2" height="1" fill="#c4f4f4"/><rect x="207" y="201" width="1" height="1" fill="#c4f4f4"/><rect x="185" y="199" width="1" height="1" fill="#f6b4ee"/><rect x="171" y="199" width="1" height="1" fill="#f6b4ee"/><rect x="215" y="202" width="1" height="2" fill="#c4f4f4"/><rect x="271" y="200" width="2" height="1" fill="#f6b4ee"/><rect x="191" y="197" width="1" height="1" fill="#c4f4f4"/><rect x="229" y="200" width="1" height="2" fill="#f6b4ee"/><rect x="234" y="202" width="1" height="2" fill="#f6b4ee"/><rect x="197" y="198" width="1" height="2" fill="#f6b4ee"/><rect x="240" y="201" width="2" height="1" fill="#c4f4f4"/><rect x="212" y="195" width="1" height="2" fill="#c4f4f4"/><rect x="173" y="202" width="1" height="2" fill="#f6b4ee"/><rect x="192" y="197" width="1" height="1" fill="#f6b4ee"/><rect x="205" y="203" width="2" height="2" fill="#c4f4f4"/><rect x="165" y="200" width="2" height="2" fill="#c4f4f4"/><rect x="186" y="197" width="2" height="2" fill="#c4f4f4"/><rect x="239" y="203" width="1" height="2" fill="#f6b4ee"/><rect x="176" y="194" width="2" height="2" fill="#f6b4ee"/><rect x="240" y="196" width="2" height="1" fill="#c4f4f4"/><rect x="148" y="202" width="2" height="1" fill="#c4f4f4"/><rect x="235" y="198" width="1" height="2" fill="#c4f4f4"/><rect x="205" y="197" width="1" height="1" fill="#c4f4f4"/><rect x="178" y="200" width="2" height="2" fill="#f6b4ee"/><rect x="192" y="196" width="2" height="2" fill="#c4f4f4"/><rect x="252" y="197" width="1" height="2" fill="#f6b4ee"/><rect x="214" y="196" width="2" height="2" fill="#c4f4f4"/><rect x="234" y="200" width="1" height="2" fill="#f6b4ee"/><rect x="164" y="202" width="1" height="1" fill="#f6b4ee"/><rect x="164" y="206" width="1" height="1" fill="#c4f4f4"/><rect x="193" y="206" width="1" height="2" fill="#f6b4ee"/><rect x="233" y="204" width="2" height="1" fill="#f6b4ee"/><rect x="189" y="209" width="1" height="2" fill="#f6b4ee"/><rect x="151" y="194" width="1" height="2" fill="#f6b4ee"/><rect x="110" y="199" width="2" height="1" fill="#f6b4ee"/><rect x="199" y="199" width="2" height="1" fill="#f6b4ee"/><rect x="208" y="197" width="1" height="1" fill="#f6b4ee"/><rect x="223" y="196" width="2" height="2" fill="#f6b4ee"/><rect x="194" y="198" width="1" height="2" fill="#c4f4f4"/><rect x="171" y="204" width="1" height="1" fill="#c4f4f4"/><rect x="170" y="192" width="1" height="2" fill="#f6b4ee"/><rect x="253" y="202" width="1" height="1" fill="#c4f4f4"/></g>
<rect x="128" y="50" width="25" height="14" fill="#effcfc"/>
<path d="M133.3 49.3H152.4M126.9 57.4H146.9" stroke="#f27ef0" stroke-width="1.0"/>
<path d="M73.15 15.00V180.40 M112.00 15.00V180.40 M150.85 15.00V180.40 M189.70 15.00V180.40 M228.55 15.00V180.40 M34.30 27.72H267.40 M34.30 53.17H267.40 M34.30 78.62H267.40 M34.30 104.06H267.40 M34.30 129.51H267.40 M34.30 154.95H267.40" stroke="#ececec" stroke-width="0.8" fill="none"/>
<path d="M34.30 110.10 C35.16 110.10 35.84 115.90 36.70 115.90 C39.00 115.90 40.80 96.40 43.10 96.40 C45.58 96.40 47.52 113.70 50.00 113.70 C51.91 113.70 53.39 92.20 55.30 92.20 C56.63 92.20 57.67 103.20 59.00 103.20 C60.04 103.20 60.86 90.90 61.90 90.90 C63.66 90.90 65.04 137.00 66.80 137.00 C68.74 137.00 70.26 92.00 72.20 92.00 C73.50 92.00 74.50 81.80 75.80 81.80 C77.53 81.80 78.87 125.00 80.60 125.00 C82.15 125.00 83.35 85.50 84.90 85.50 C86.41 85.50 87.59 121.40 89.10 121.40 C90.94 121.40 92.36 101.30 94.20 101.30 C95.32 101.30 96.18 105.20 97.30 105.20 C98.74 105.20 99.86 94.60 101.30 94.60 C102.74 94.60 103.86 110.80 105.30 110.80 C106.63 110.80 107.67 92.20 109.00 92.20 C110.69 92.20 112.01 123.20 113.70 123.20 C115.36 123.20 116.64 86.40 118.30 86.40 C119.88 86.40 121.12 127.40 122.70 127.40 C124.32 127.40 125.58 79.10 127.20 79.10 C128.71 79.10 129.89 119.20 131.40 119.20 C132.73 119.20 133.77 93.70 135.10 93.70 C136.65 93.70 137.85 112.00 139.40 112.00 C141.60 112.00 143.30 98.80 145.50 98.80 C147.44 98.80 148.96 111.90 150.90 111.90 C152.56 111.90 153.84 99.70 155.50 99.70 C156.80 99.70 157.80 103.70 159.10 103.70 C160.76 103.70 162.04 97.70 163.70 97.70 C165.64 97.70 167.16 114.10 169.10 114.10 C170.90 114.10 172.30 99.10 174.10 99.10 C175.61 99.10 176.79 111.30 178.30 111.30 C180.06 111.30 181.44 95.50 183.20 95.50 C184.96 95.50 186.34 108.30 188.10 108.30 C189.76 108.30 191.04 99.10 192.70 99.10 C194.32 99.10 195.58 112.80 197.20 112.80 C199.04 112.80 200.46 99.10 202.30 99.10 C203.74 99.10 204.86 109.70 206.30 109.70 C208.06 109.70 209.44 96.40 211.20 96.40 C212.86 96.40 214.14 108.60 215.80 108.60 C217.31 108.60 218.49 101.00 220.00 101.00 C221.66 101.00 222.94 108.60 224.60 108.60 C226.47 108.60 227.93 102.40 229.80 102.40 C231.28 102.40 232.42 105.50 233.90 105.50 C235.66 105.50 237.04 99.10 238.80 99.10 C240.67 99.10 242.13 109.20 244.00 109.20 C245.66 109.20 246.94 101.20 248.60 101.20 C250.29 101.20 251.61 106.10 253.30 106.10 C254.63 106.10 255.67 103.70 257.00 103.70 C258.12 103.70 258.98 105.50 260.10 105.50 C262.04 105.50 263.56 98.80 265.50 98.80 C266.18 98.80 266.72 100.00 267.40 100.00" stroke="#5e5074" stroke-width="1.20" fill="none" stroke-linejoin="round"/>
<rect x="34.30" y="15.00" width="233.10" height="165.40" fill="none" stroke="#a0a0a0" stroke-width="0.90"/>
<path d="M34.30 180.40v-2.2M34.30 15.00v2.2 M73.15 180.40v-2.2M73.15 15.00v2.2 M112.00 180.40v-2.2M112.00 15.00v2.2 M150.85 180.40v-2.2M150.85 15.00v2.2 M189.70 180.40v-2.2M189.70 15.00v2.2 M228.55 180.40v-2.2M228.55 15.00v2.2 M267.40 180.40v-2.2M267.40 15.00v2.2 M34.30 27.72h2.2M267.40 27.72h-2.2 M34.30 53.17h2.2M267.40 53.17h-2.2 M34.30 78.62h2.2M267.40 78.62h-2.2 M34.30 104.06h2.2M267.40 104.06h-2.2 M34.30 129.51h2.2M267.40 129.51h-2.2 M34.30 154.95h2.2M267.40 154.95h-2.2 M34.30 180.40h2.2M267.40 180.40h-2.2" stroke="#808080" stroke-width="0.7" fill="none"/>
<text x="34.30" y="192.00" font-size="8.20" fill="#353535" stroke="#353535" stroke-width="0.18" text-anchor="middle">0</text>
<text x="73.15" y="192.00" font-size="8.20" fill="#353535" stroke="#353535" stroke-width="0.18" text-anchor="middle">10</text>
<text x="112.00" y="192.00" font-size="8.20" fill="#353535" stroke="#353535" stroke-width="0.18" text-anchor="middle">20</text>
<text x="150.85" y="192.00" font-size="8.20" fill="#353535" stroke="#353535" stroke-width="0.18" text-anchor="middle">30</text>
<text x="189.70" y="192.00" font-size="8.20" fill="#353535" stroke="#353535" stroke-width="0.18" text-anchor="middle">40</text>
<text x="228.55" y="192.00" font-size="8.20" fill="#353535" stroke="#353535" stroke-width="0.18" text-anchor="middle">50</text>
<text x="267.40" y="192.00" font-size="8.20" fill="#353535" stroke="#353535" stroke-width="0.18" text-anchor="middle">60</text>
<text x="0" y="0" transform="translate(31.85 30.82) scale(0.95 1)" font-size="8.20" fill="#353535" stroke="#353535" stroke-width="0.18" text-anchor="end">0.15</text>
<text x="0" y="0" transform="translate(31.85 56.27) scale(0.95 1)" font-size="8.20" fill="#353535" stroke="#353535" stroke-width="0.18" text-anchor="end">0.1</text>
<text x="0" y="0" transform="translate(31.85 81.72) scale(0.95 1)" font-size="8.20" fill="#353535" stroke="#353535" stroke-width="0.18" text-anchor="end">0.05</text>
<text x="0" y="0" transform="translate(31.85 107.16) scale(0.95 1)" font-size="8.20" fill="#353535" stroke="#353535" stroke-width="0.18" text-anchor="end">0</text>
<text x="0" y="0" transform="translate(31.85 132.61) scale(0.95 1)" font-size="8.20" fill="#353535" stroke="#353535" stroke-width="0.18" text-anchor="end">-0.05</text>
<text x="0" y="0" transform="translate(31.85 158.05) scale(0.95 1)" font-size="8.20" fill="#353535" stroke="#353535" stroke-width="0.18" text-anchor="end">-0.1</text>
<text x="0" y="0" transform="translate(31.85 183.50) scale(0.95 1)" font-size="8.20" fill="#353535" stroke="#353535" stroke-width="0.18" text-anchor="end">-0.15</text>
<text x="150.85" y="202.60" font-size="8.60" fill="#353535" text-anchor="middle">Time shift (s)</text>
<text x="0" y="0" font-size="8.40" fill="#353535" text-anchor="middle" transform="translate(10.00 97.70) rotate(-90)">Coherency</text>
<text x="150.85" y="12.40" font-size="8.60" font-weight="bold" fill="#111" stroke="#111" stroke-width="0.12" text-anchor="middle">Stations G374-G434-RZ</text>
<rect x="155.20" y="20.20" width="107.20" height="20.10" fill="#fff" stroke="#b4b4b4" stroke-width="0.7"/>
<path d="M157.20 25.50H176.40" stroke="#7e4a40" stroke-width="1.1"/>
<path d="M157.20 34.60H176.40" stroke="#c4c4e4" stroke-width="1.0"/>
<path d="M157.20 34.60H176.40" stroke="#52527e" stroke-width="1.0" stroke-dasharray="3 1.2 1 1.2"/>
<text x="178.10" y="28.60" font-size="6.93" fill="#222" stroke="#222" stroke-width="0.15">Rotation before correlation</text>
<text x="178.10" y="37.70" font-size="6.93" fill="#222" stroke="#222" stroke-width="0.15">Rotation after correlation</text>
<path d="M347.53 15.00V180.40 M386.37 15.00V180.40 M425.20 15.00V180.40 M464.03 15.00V180.40 M502.87 15.00V180.40 M308.70 27.72H541.70 M308.70 53.17H541.70 M308.70 78.62H541.70 M308.70 104.06H541.70 M308.70 129.51H541.70 M308.70 154.95H541.70" stroke="#ececec" stroke-width="0.8" fill="none"/>
<path d="M308.70 102.30 C309.74 102.30 310.56 78.60 311.60 78.60 C312.79 78.60 313.71 86.80 314.90 86.80 C317.13 86.80 318.87 128.00 321.10 128.00 C323.84 128.00 325.96 86.40 328.70 86.40 C330.18 86.40 331.32 97.10 332.80 97.10 C335.25 97.10 337.15 128.00 339.60 128.00 C342.41 128.00 344.59 79.90 347.40 79.90 C348.73 79.90 349.77 86.10 351.10 86.10 C353.33 86.10 355.07 140.70 357.30 140.70 C360.43 140.70 362.87 65.40 366.00 65.40 C367.58 65.40 368.82 107.80 370.40 107.80 C371.41 107.80 372.19 87.80 373.20 87.80 C374.86 87.80 376.14 122.90 377.80 122.90 C378.70 122.90 379.40 116.70 380.30 116.70 C381.06 116.70 381.64 115.60 382.40 115.60 C383.88 115.60 385.02 101.20 386.50 101.20 C388.34 101.20 389.76 90.90 391.60 90.90 C393.11 90.90 394.29 97.10 395.80 97.10 C397.78 97.10 399.32 118.80 401.30 118.80 C402.56 118.80 403.54 112.40 404.80 112.40 C405.41 112.40 405.89 112.80 406.50 112.80 C409.67 112.80 412.13 94.00 415.30 94.00 C417.17 94.00 418.63 106.40 420.50 106.40 C422.19 106.40 423.51 116.10 425.20 116.10 C426.68 116.10 427.82 103.30 429.30 103.30 C431.32 103.30 432.88 94.00 434.90 94.00 C438.03 94.00 440.47 109.30 443.60 109.30 C444.68 109.30 445.52 106.40 446.60 106.40 C447.57 106.40 448.33 110.50 449.30 110.50 C450.78 110.50 451.92 101.20 453.40 101.20 C454.37 101.20 455.13 104.30 456.10 104.30 C457.36 104.30 458.34 98.10 459.60 98.10 C460.50 98.10 461.20 103.30 462.10 103.30 C463.04 103.30 463.76 98.80 464.70 98.80 C466.43 98.80 467.77 111.50 469.50 111.50 C470.76 111.50 471.74 103.70 473.00 103.70 C473.83 103.70 474.47 108.50 475.30 108.50 C476.31 108.50 477.09 102.30 478.10 102.30 C479.22 102.30 480.08 106.40 481.20 106.40 C482.53 106.40 483.57 97.10 484.90 97.10 C486.16 97.10 487.14 106.40 488.40 106.40 C489.37 106.40 490.13 102.30 491.10 102.30 C491.82 102.30 492.38 105.00 493.10 105.00 C494.22 105.00 495.08 100.20 496.20 100.20 C497.86 100.20 499.14 109.50 500.80 109.50 C501.92 109.50 502.78 104.30 503.90 104.30 C504.48 104.30 504.92 105.40 505.50 105.40 C506.90 105.40 508.00 97.30 509.40 97.30 C510.77 97.30 511.83 107.00 513.20 107.00 C514.32 107.00 515.18 103.70 516.30 103.70 C517.27 103.70 518.03 106.40 519.00 106.40 C520.04 106.40 520.86 101.20 521.90 101.20 C523.09 101.20 524.01 105.00 525.20 105.00 C526.24 105.00 527.06 101.20 528.10 101.20 C529.29 101.20 530.21 105.40 531.40 105.40 C532.66 105.40 533.64 101.20 534.90 101.20 C535.87 101.20 536.63 105.80 537.60 105.80 C539.08 105.80 540.22 100.20 541.70 100.20" stroke="#8a82c0" stroke-width="0.9" fill="none" stroke-linejoin="round"/>
<path d="M308.70 102.48 C309.74 102.48 310.56 81.15 311.60 81.15 C312.79 81.15 313.71 88.53 314.90 88.53 C317.13 88.53 318.87 125.61 321.10 125.61 C323.84 125.61 325.96 88.17 328.70 88.17 C330.18 88.17 331.32 97.80 332.80 97.80 C335.25 97.80 337.15 125.61 339.60 125.61 C342.41 125.61 344.59 82.32 347.40 82.32 C348.73 82.32 349.77 87.90 351.10 87.90 C353.33 87.90 355.07 137.04 357.30 137.04 C360.43 137.04 362.87 69.27 366.00 69.27 C367.58 69.27 368.82 107.43 370.40 107.43 C371.41 107.43 372.19 89.43 373.20 89.43 C374.86 89.43 376.14 121.02 377.80 121.02 C378.70 121.02 379.40 115.46 380.30 115.46 C381.06 115.46 381.64 114.58 382.40 114.58 C383.88 114.58 385.02 101.39 386.50 101.39 C388.34 101.39 389.76 91.45 391.60 91.45 C393.11 91.45 394.29 97.25 395.80 97.25 C397.78 97.25 399.32 118.80 401.30 118.80 C402.56 118.80 403.54 112.40 404.80 112.40 C405.41 112.40 405.89 112.80 406.50 112.80 C409.67 112.80 412.13 94.00 415.30 94.00 C417.17 94.00 418.63 106.40 420.50 106.40 C422.19 106.40 423.51 116.10 425.20 116.10 C426.68 116.10 427.82 103.30 429.30 103.30 C431.32 103.30 432.88 94.00 434.90 94.00 C438.03 94.00 440.47 109.30 443.60 109.30 C444.68 109.30 445.52 106.40 446.60 106.40 C447.57 106.40 448.33 110.50 449.30 110.50 C450.78 110.50 451.92 101.20 453.40 101.20 C454.37 101.20 455.13 104.30 456.10 104.30 C457.36 104.30 458.34 98.10 459.60 98.10 C460.50 98.10 461.20 103.30 462.10 103.30 C463.04 103.30 463.76 98.80 464.70 98.80 C466.43 98.80 467.77 111.50 469.50 111.50 C470.76 111.50 471.74 103.70 473.00 103.70 C473.83 103.70 474.47 108.50 475.30 108.50 C476.31 108.50 477.09 102.30 478.10 102.30 C479.22 102.30 480.08 106.40 481.20 106.40 C482.53 106.40 483.57 97.10 484.90 97.10 C486.16 97.10 487.14 106.40 488.40 106.40 C489.37 106.40 490.13 102.30 491.10 102.30 C491.82 102.30 492.38 105.00 493.10 105.00 C494.22 105.00 495.08 100.20 496.20 100.20 C497.86 100.20 499.14 109.50 500.80 109.50 C501.92 109.50 502.78 104.30 503.90 104.30 C504.48 104.30 504.92 105.40 505.50 105.40 C506.90 105.40 508.00 97.30 509.40 97.30 C510.77 97.30 511.83 107.00 513.20 107.00 C514.32 107.00 515.18 103.70 516.30 103.70 C517.27 103.70 518.03 106.40 519.00 106.40 C520.04 106.40 520.86 101.20 521.90 101.20 C523.09 101.20 524.01 105.00 525.20 105.00 C526.24 105.00 527.06 101.20 528.10 101.20 C529.29 101.20 530.21 105.40 531.40 105.40 C532.66 105.40 533.64 101.20 534.90 101.20 C535.87 101.20 536.63 105.80 537.60 105.80 C539.08 105.80 540.22 100.20 541.70 100.20" stroke="#5e5074" stroke-width="1.20" fill="none" stroke-linejoin="round"/>
<rect x="308.70" y="15.00" width="233.00" height="165.40" fill="none" stroke="#a0a0a0" stroke-width="0.90"/>
<path d="M308.70 180.40v-2.2M308.70 15.00v2.2 M347.53 180.40v-2.2M347.53 15.00v2.2 M386.37 180.40v-2.2M386.37 15.00v2.2 M425.20 180.40v-2.2M425.20 15.00v2.2 M464.03 180.40v-2.2M464.03 15.00v2.2 M502.87 180.40v-2.2M502.87 15.00v2.2 M541.70 180.40v-2.2M541.70 15.00v2.2 M308.70 27.72h2.2M541.70 27.72h-2.2 M308.70 53.17h2.2M541.70 53.17h-2.2 M308.70 78.62h2.2M541.70 78.62h-2.2 M308.70 104.06h2.2M541.70 104.06h-2.2 M308.70 129.51h2.2M541.70 129.51h-2.2 M308.70 154.95h2.2M541.70 154.95h-2.2 M308.70 180.40h2.2M541.70 180.40h-2.2" stroke="#808080" stroke-width="0.7" fill="none"/>
<text x="308.70" y="192.00" font-size="8.20" fill="#353535" stroke="#353535" stroke-width="0.18" text-anchor="middle">0</text>
<text x="347.53" y="192.00" font-size="8.20" fill="#353535" stroke="#353535" stroke-width="0.18" text-anchor="middle">10</text>
<text x="386.37" y="192.00" font-size="8.20" fill="#353535" stroke="#353535" stroke-width="0.18" text-anchor="middle">20</text>
<text x="425.20" y="192.00" font-size="8.20" fill="#353535" stroke="#353535" stroke-width="0.18" text-anchor="middle">30</text>
<text x="464.03" y="192.00" font-size="8.20" fill="#353535" stroke="#353535" stroke-width="0.18" text-anchor="middle">40</text>
<text x="502.87" y="192.00" font-size="8.20" fill="#353535" stroke="#353535" stroke-width="0.18" text-anchor="middle">50</text>
<text x="541.70" y="192.00" font-size="8.20" fill="#353535" stroke="#353535" stroke-width="0.18" text-anchor="middle">60</text>
<text x="0" y="0" transform="translate(306.25 30.82) scale(0.95 1)" font-size="8.20" fill="#353535" stroke="#353535" stroke-width="0.18" text-anchor="end">0.15</text>
<text x="0" y="0" transform="translate(306.25 56.27) scale(0.95 1)" font-size="8.20" fill="#353535" stroke="#353535" stroke-width="0.18" text-anchor="end">0.1</text>
<text x="0" y="0" transform="translate(306.25 81.72) scale(0.95 1)" font-size="8.20" fill="#353535" stroke="#353535" stroke-width="0.18" text-anchor="end">0.05</text>
<text x="0" y="0" transform="translate(306.25 107.16) scale(0.95 1)" font-size="8.20" fill="#353535" stroke="#353535" stroke-width="0.18" text-anchor="end">0</text>
<text x="0" y="0" transform="translate(306.25 132.61) scale(0.95 1)" font-size="8.20" fill="#353535" stroke="#353535" stroke-width="0.18" text-anchor="end">-0.05</text>
<text x="0" y="0" transform="translate(306.25 158.05) scale(0.95 1)" font-size="8.20" fill="#353535" stroke="#353535" stroke-width="0.18" text-anchor="end">-0.1</text>
<text x="0" y="0" transform="translate(306.25 183.50) scale(0.95 1)" font-size="8.20" fill="#353535" stroke="#353535" stroke-width="0.18" text-anchor="end">-0.15</text>
<text x="425.20" y="202.60" font-size="8.60" fill="#353535" text-anchor="middle">Time shift (s)</text>
<text x="0" y="0" font-size="8.40" fill="#353535" text-anchor="middle" transform="translate(284.40 97.70) rotate(-90)">Coherency</text>
<text x="425.20" y="12.40" font-size="8.60" font-weight="bold" fill="#111" stroke="#111" stroke-width="0.12" text-anchor="middle">Stations G374-G434-TT</text>
<rect x="429.50" y="20.20" width="107.20" height="20.10" fill="#fff" stroke="#b4b4b4" stroke-width="0.7"/>
<path d="M431.50 25.50H450.70" stroke="#7e4a40" stroke-width="1.1"/>
<path d="M431.50 34.60H450.70" stroke="#c4c4e4" stroke-width="1.0"/>
<path d="M431.50 34.60H450.70" stroke="#52527e" stroke-width="1.0" stroke-dasharray="3 1.2 1 1.2"/>
<text x="452.40" y="28.60" font-size="6.93" fill="#222" stroke="#222" stroke-width="0.15">Rotation before correlation</text>
<text x="452.40" y="37.70" font-size="6.93" fill="#222" stroke="#222" stroke-width="0.15">Rotation after correlation</text>
<path d="M73.15 219.20V384.40 M112.00 219.20V384.40 M150.85 219.20V384.40 M189.70 219.20V384.40 M228.55 219.20V384.40 M34.30 231.91H267.40 M34.30 257.32H267.40 M34.30 282.74H267.40 M34.30 308.15H267.40 M34.30 333.57H267.40 M34.30 358.98H267.40" stroke="#ececec" stroke-width="0.8" fill="none"/>
<path d="M34.40 312.80 C35.12 312.80 35.68 311.80 36.40 311.80 C37.08 311.80 37.62 313.40 38.30 313.40 C39.81 313.40 40.99 302.10 42.50 302.10 C43.90 302.10 45.00 316.60 46.40 316.60 C47.62 316.60 48.58 303.30 49.80 303.30 C50.92 303.30 51.78 308.90 52.90 308.90 C54.12 308.90 55.08 306.00 56.30 306.00 C56.77 306.00 57.13 306.20 57.60 306.20 C58.46 306.20 59.14 304.70 60.00 304.70 C61.44 304.70 62.56 317.10 64.00 317.10 C65.40 317.10 66.50 297.70 67.90 297.70 C69.23 297.70 70.27 316.90 71.60 316.90 C72.54 316.90 73.26 310.50 74.20 310.50 C75.17 310.50 75.93 314.70 76.90 314.70 C78.20 314.70 79.20 297.00 80.50 297.00 C81.87 297.00 82.93 310.80 84.30 310.80 C85.16 310.80 85.84 306.40 86.70 306.40 C87.71 306.40 88.49 310.50 89.50 310.50 C90.44 310.50 91.16 305.50 92.10 305.50 C93.43 305.50 94.47 317.10 95.80 317.10 C97.35 317.10 98.55 298.70 100.10 298.70 C101.76 298.70 103.04 311.30 104.70 311.30 C105.56 311.30 106.24 310.80 107.10 310.80 C108.58 310.80 109.72 302.60 111.20 302.60 C112.60 302.60 113.70 316.30 115.10 316.30 C116.25 316.30 117.15 309.80 118.30 309.80 C119.96 309.80 121.24 303.00 122.90 303.00 C124.48 303.00 125.72 311.30 127.30 311.30 C128.49 311.30 129.41 300.10 130.60 300.10 C132.26 300.10 133.54 311.80 135.20 311.80 C136.93 311.80 138.27 306.40 140.00 306.40 C141.58 306.40 142.82 316.30 144.40 316.30 C145.88 316.30 147.02 304.00 148.50 304.00 C149.65 304.00 150.55 314.00 151.70 314.00 C153.10 314.00 154.20 299.20 155.60 299.20 C156.97 299.20 158.03 307.00 159.40 307.00 C160.44 307.00 161.26 308.60 162.30 308.60 C163.42 308.60 164.28 307.50 165.40 307.50 C166.98 307.50 168.22 317.40 169.80 317.40 C171.28 317.40 172.42 302.60 173.90 302.60 C175.02 302.60 175.88 311.30 177.00 311.30 C178.26 311.30 179.24 304.00 180.50 304.00 C181.11 304.00 181.59 305.00 182.20 305.00 C183.06 305.00 183.74 303.50 184.60 303.50 C186.04 303.50 187.16 316.90 188.60 316.90 C190.00 316.90 191.10 305.50 192.50 305.50 C193.54 305.50 194.36 314.00 195.40 314.00 C196.80 314.00 197.90 302.10 199.30 302.10 C200.45 302.10 201.35 305.50 202.50 305.50 C204.26 305.50 205.64 311.30 207.40 311.30 C208.34 311.30 209.06 306.00 210.00 306.00 C211.51 306.00 212.69 314.20 214.20 314.20 C215.53 314.20 216.57 304.00 217.90 304.00 C218.80 304.00 219.50 307.40 220.40 307.40 C221.08 307.40 221.62 306.90 222.30 306.90 C223.70 306.90 224.80 312.30 226.20 312.30 C227.78 312.30 229.02 306.40 230.60 306.40 C231.46 306.40 232.14 308.20 233.00 308.20 C233.86 308.20 234.54 307.20 235.40 307.20 C236.26 307.20 236.94 308.20 237.80 308.20 C239.02 308.20 239.98 305.30 241.20 305.30 C242.42 305.30 243.38 312.80 244.60 312.80 C245.82 312.80 246.78 305.50 248.00 305.50 C249.22 305.50 250.18 309.80 251.40 309.80 C252.12 309.80 252.68 309.00 253.40 309.00 C254.26 309.00 254.94 311.30 255.80 311.30 C257.56 311.30 258.94 304.00 260.70 304.00 C261.74 304.00 262.56 306.90 263.60 306.90 C264.97 306.90 266.03 305.30 267.40 305.30" stroke="#5e5074" stroke-width="1.20" fill="none" stroke-linejoin="round"/>
<rect x="34.30" y="219.20" width="233.10" height="165.20" fill="none" stroke="#a0a0a0" stroke-width="0.90"/>
<path d="M34.30 384.40v-2.2M34.30 219.20v2.2 M73.15 384.40v-2.2M73.15 219.20v2.2 M112.00 384.40v-2.2M112.00 219.20v2.2 M150.85 384.40v-2.2M150.85 219.20v2.2 M189.70 384.40v-2.2M189.70 219.20v2.2 M228.55 384.40v-2.2M228.55 219.20v2.2 M267.40 384.40v-2.2M267.40 219.20v2.2 M34.30 231.91h2.2M267.40 231.91h-2.2 M34.30 257.32h2.2M267.40 257.32h-2.2 M34.30 282.74h2.2M267.40 282.74h-2.2 M34.30 308.15h2.2M267.40 308.15h-2.2 M34.30 333.57h2.2M267.40 333.57h-2.2 M34.30 358.98h2.2M267.40 358.98h-2.2 M34.30 384.40h2.2M267.40 384.40h-2.2" stroke="#808080" stroke-width="0.7" fill="none"/>
<text x="34.30" y="396.00" font-size="8.20" fill="#353535" stroke="#353535" stroke-width="0.18" text-anchor="middle">0</text>
<text x="73.15" y="396.00" font-size="8.20" fill="#353535" stroke="#353535" stroke-width="0.18" text-anchor="middle">10</text>
<text x="112.00" y="396.00" font-size="8.20" fill="#353535" stroke="#353535" stroke-width="0.18" text-anchor="middle">20</text>
<text x="150.85" y="396.00" font-size="8.20" fill="#353535" stroke="#353535" stroke-width="0.18" text-anchor="middle">30</text>
<text x="189.70" y="396.00" font-size="8.20" fill="#353535" stroke="#353535" stroke-width="0.18" text-anchor="middle">40</text>
<text x="228.55" y="396.00" font-size="8.20" fill="#353535" stroke="#353535" stroke-width="0.18" text-anchor="middle">50</text>
<text x="267.40" y="396.00" font-size="8.20" fill="#353535" stroke="#353535" stroke-width="0.18" text-anchor="middle">60</text>
<text x="0" y="0" transform="translate(31.85 235.01) scale(0.95 1)" font-size="8.20" fill="#353535" stroke="#353535" stroke-width="0.18" text-anchor="end">0.15</text>
<text x="0" y="0" transform="translate(31.85 260.42) scale(0.95 1)" font-size="8.20" fill="#353535" stroke="#353535" stroke-width="0.18" text-anchor="end">0.1</text>
<text x="0" y="0" transform="translate(31.85 285.84) scale(0.95 1)" font-size="8.20" fill="#353535" stroke="#353535" stroke-width="0.18" text-anchor="end">0.05</text>
<text x="0" y="0" transform="translate(31.85 311.25) scale(0.95 1)" font-size="8.20" fill="#353535" stroke="#353535" stroke-width="0.18" text-anchor="end">0</text>
<text x="0" y="0" transform="translate(31.85 336.67) scale(0.95 1)" font-size="8.20" fill="#353535" stroke="#353535" stroke-width="0.18" text-anchor="end">-0.05</text>
<text x="0" y="0" transform="translate(31.85 362.08) scale(0.95 1)" font-size="8.20" fill="#353535" stroke="#353535" stroke-width="0.18" text-anchor="end">-0.1</text>
<text x="0" y="0" transform="translate(31.85 387.50) scale(0.95 1)" font-size="8.20" fill="#353535" stroke="#353535" stroke-width="0.18" text-anchor="end">-0.15</text>
<text x="150.85" y="406.60" font-size="8.60" fill="#353535" text-anchor="middle">Time shift (s)</text>
<text x="0" y="0" font-size="8.40" fill="#353535" text-anchor="middle" transform="translate(10.00 301.80) rotate(-90)">Coherency</text>
<text x="150.85" y="216.10" font-size="8.60" font-weight="bold" fill="#111" stroke="#111" stroke-width="0.12" text-anchor="middle">Stations G374-G434-TZ</text>
<rect x="155.20" y="224.40" width="107.20" height="20.10" fill="#fff" stroke="#b4b4b4" stroke-width="0.7"/>
<path d="M157.20 229.70H176.40" stroke="#7e4a40" stroke-width="1.1"/>
<path d="M157.20 238.80H176.40" stroke="#c4c4e4" stroke-width="1.0"/>
<path d="M157.20 238.80H176.40" stroke="#52527e" stroke-width="1.0" stroke-dasharray="3 1.2 1 1.2"/>
<text x="178.10" y="232.80" font-size="6.93" fill="#222" stroke="#222" stroke-width="0.15">Rotation before correlation</text>
<text x="178.10" y="241.90" font-size="6.93" fill="#222" stroke="#222" stroke-width="0.15">Rotation after correlation</text>
<path d="M347.53 219.20V384.40 M386.37 219.20V384.40 M425.20 219.20V384.40 M464.03 219.20V384.40 M502.87 219.20V384.40 M308.70 231.91H541.70 M308.70 257.32H541.70 M308.70 282.74H541.70 M308.70 308.15H541.70 M308.70 333.57H541.70 M308.70 358.98H541.70" stroke="#ececec" stroke-width="0.8" fill="none"/>
<path d="M308.70 303.50 C310.54 303.50 311.96 281.80 313.80 281.80 C316.18 281.80 318.02 330.30 320.40 330.30 C322.49 330.30 324.11 313.10 326.20 313.10 C327.24 313.10 328.06 315.80 329.10 315.80 C330.79 315.80 332.11 274.00 333.80 274.00 C336.39 274.00 338.41 324.70 341.00 324.70 C343.02 324.70 344.58 295.20 346.60 295.20 C347.79 295.20 348.71 328.20 349.90 328.20 C351.66 328.20 353.04 286.70 354.80 286.70 C356.85 286.70 358.45 328.60 360.50 328.60 C362.23 328.60 363.57 263.40 365.30 263.40 C366.63 263.40 367.67 365.30 369.00 365.30 C370.55 365.30 371.75 272.50 373.30 272.50 C374.88 272.50 376.12 337.60 377.70 337.60 C379.54 337.60 380.96 276.10 382.80 276.10 C384.38 276.10 385.62 336.80 387.20 336.80 C388.86 336.80 390.14 286.30 391.80 286.30 C393.49 286.30 394.81 325.60 396.50 325.60 C398.44 325.60 399.96 290.50 401.90 290.50 C403.56 290.50 404.84 322.80 406.50 322.80 C408.01 322.80 409.19 296.50 410.70 296.50 C412.75 296.50 414.35 318.60 416.40 318.60 C418.09 318.60 419.41 300.70 421.10 300.70 C423.08 300.70 424.62 314.30 426.60 314.30 C428.58 314.30 430.12 297.70 432.10 297.70 C433.94 297.70 435.36 320.20 437.20 320.20 C438.57 320.20 439.63 304.60 441.00 304.60 C441.94 304.60 442.66 307.80 443.60 307.80 C444.28 307.80 444.82 307.20 445.50 307.20 C446.15 307.20 446.65 308.60 447.30 308.60 C448.60 308.60 449.60 301.30 450.90 301.30 C452.48 301.30 453.72 313.70 455.30 313.70 C456.60 313.70 457.60 304.90 458.90 304.90 C459.94 304.90 460.76 311.50 461.80 311.50 C463.02 311.50 463.98 305.70 465.20 305.70 C466.10 305.70 466.80 311.50 467.70 311.50 C469.00 311.50 470.00 304.90 471.30 304.90 C472.34 304.90 473.16 309.60 474.20 309.60 C475.21 309.60 475.99 303.80 477.00 303.80 C478.30 303.80 479.30 311.70 480.60 311.70 C481.72 311.70 482.58 304.90 483.70 304.90 C484.85 304.90 485.75 312.20 486.90 312.20 C487.87 312.20 488.63 308.60 489.60 308.60 C490.21 308.60 490.69 309.30 491.30 309.30 C492.78 309.30 493.92 304.90 495.40 304.90 C496.98 304.90 498.22 312.60 499.80 312.60 C501.17 312.60 502.23 304.90 503.60 304.90 C506.08 304.90 508.02 311.70 510.50 311.70 C511.98 311.70 513.12 304.20 514.60 304.20 C515.90 304.20 516.90 311.40 518.20 311.40 C520.83 311.40 522.87 305.50 525.50 305.50 C527.01 305.50 528.19 312.20 529.70 312.20 C531.46 312.20 532.84 307.30 534.60 307.30 C535.25 307.30 535.75 308.10 536.40 308.10 C537.26 308.10 537.94 307.80 538.80 307.80 C539.84 307.80 540.66 309.70 541.70 309.70" stroke="#5e5074" stroke-width="1.20" fill="none" stroke-linejoin="round"/>
<rect x="308.70" y="219.20" width="233.00" height="165.20" fill="none" stroke="#a0a0a0" stroke-width="0.90"/>
<path d="M308.70 384.40v-2.2M308.70 219.20v2.2 M347.53 384.40v-2.2M347.53 219.20v2.2 M386.37 384.40v-2.2M386.37 219.20v2.2 M425.20 384.40v-2.2M425.20 219.20v2.2 M464.03 384.40v-2.2M464.03 219.20v2.2 M502.87 384.40v-2.2M502.87 219.20v2.2 M541.70 384.40v-2.2M541.70 219.20v2.2 M308.70 231.91h2.2M541.70 231.91h-2.2 M308.70 257.32h2.2M541.70 257.32h-2.2 M308.70 282.74h2.2M541.70 282.74h-2.2 M308.70 308.15h2.2M541.70 308.15h-2.2 M308.70 333.57h2.2M541.70 333.57h-2.2 M308.70 358.98h2.2M541.70 358.98h-2.2 M308.70 384.40h2.2M541.70 384.40h-2.2" stroke="#808080" stroke-width="0.7" fill="none"/>
<text x="308.70" y="396.00" font-size="8.20" fill="#353535" stroke="#353535" stroke-width="0.18" text-anchor="middle">0</text>
<text x="347.53" y="396.00" font-size="8.20" fill="#353535" stroke="#353535" stroke-width="0.18" text-anchor="middle">10</text>
<text x="386.37" y="396.00" font-size="8.20" fill="#353535" stroke="#353535" stroke-width="0.18" text-anchor="middle">20</text>
<text x="425.20" y="396.00" font-size="8.20" fill="#353535" stroke="#353535" stroke-width="0.18" text-anchor="middle">30</text>
<text x="464.03" y="396.00" font-size="8.20" fill="#353535" stroke="#353535" stroke-width="0.18" text-anchor="middle">40</text>
<text x="502.87" y="396.00" font-size="8.20" fill="#353535" stroke="#353535" stroke-width="0.18" text-anchor="middle">50</text>
<text x="541.70" y="396.00" font-size="8.20" fill="#353535" stroke="#353535" stroke-width="0.18" text-anchor="middle">60</text>
<text x="0" y="0" transform="translate(306.25 235.01) scale(0.95 1)" font-size="8.20" fill="#353535" stroke="#353535" stroke-width="0.18" text-anchor="end">0.15</text>
<text x="0" y="0" transform="translate(306.25 260.42) scale(0.95 1)" font-size="8.20" fill="#353535" stroke="#353535" stroke-width="0.18" text-anchor="end">0.1</text>
<text x="0" y="0" transform="translate(306.25 285.84) scale(0.95 1)" font-size="8.20" fill="#353535" stroke="#353535" stroke-width="0.18" text-anchor="end">0.05</text>
<text x="0" y="0" transform="translate(306.25 311.25) scale(0.95 1)" font-size="8.20" fill="#353535" stroke="#353535" stroke-width="0.18" text-anchor="end">0</text>
<text x="0" y="0" transform="translate(306.25 336.67) scale(0.95 1)" font-size="8.20" fill="#353535" stroke="#353535" stroke-width="0.18" text-anchor="end">-0.05</text>
<text x="0" y="0" transform="translate(306.25 362.08) scale(0.95 1)" font-size="8.20" fill="#353535" stroke="#353535" stroke-width="0.18" text-anchor="end">-0.1</text>
<text x="0" y="0" transform="translate(306.25 387.50) scale(0.95 1)" font-size="8.20" fill="#353535" stroke="#353535" stroke-width="0.18" text-anchor="end">-0.15</text>
<text x="425.20" y="406.60" font-size="8.60" fill="#353535" text-anchor="middle">Time shift (s)</text>
<text x="0" y="0" font-size="8.40" fill="#353535" text-anchor="middle" transform="translate(284.40 301.80) rotate(-90)">Coherency</text>
<text x="425.20" y="216.10" font-size="8.60" font-weight="bold" fill="#111" stroke="#111" stroke-width="0.12" text-anchor="middle">Stations G374-G434-ZZ</text>
<rect x="429.50" y="224.40" width="107.20" height="20.10" fill="#fff" stroke="#b4b4b4" stroke-width="0.7"/>
<path d="M431.50 229.70H450.70" stroke="#7e4a40" stroke-width="1.1"/>
<path d="M431.50 238.80H450.70" stroke="#c4c4e4" stroke-width="1.0"/>
<path d="M431.50 238.80H450.70" stroke="#52527e" stroke-width="1.0" stroke-dasharray="3 1.2 1 1.2"/>
<text x="452.40" y="232.80" font-size="6.93" fill="#222" stroke="#222" stroke-width="0.15">Rotation before correlation</text>
<text x="452.40" y="241.90" font-size="6.93" fill="#222" stroke="#222" stroke-width="0.15">Rotation after correlation</text>
</svg></body></html>
